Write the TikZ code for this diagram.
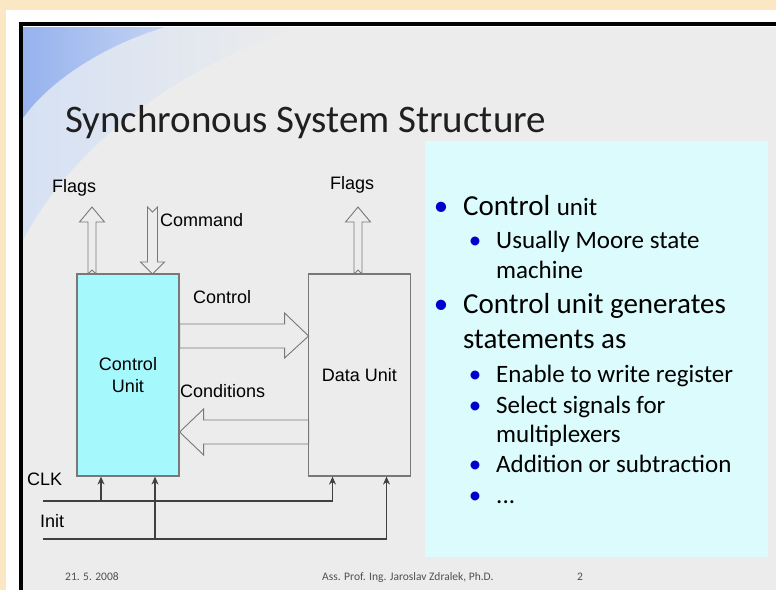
\documentclass[tikz,border=0pt]{standalone}
\usepackage{fontspec}
\setmainfont{Carlito}
\newfontfamily\diagfont{Liberation Sans}
\usetikzlibrary{arrows.meta,positioning}
\tikzset{>={Stealth[length=8pt,width=7pt]}}
\definecolor{peach}{RGB}{251,231,196}
\definecolor{slidegray}{RGB}{236,236,236}
\definecolor{slideblue}{RGB}{150,178,238}
\definecolor{paleblue}{RGB}{214,225,244}
\definecolor{unitcyan}{RGB}{165,249,252}
\definecolor{notecyan}{RGB}{220,251,252}
\definecolor{bulletblue}{RGB}{0,0,204}
\definecolor{linegray}{RGB}{120,120,120}
\definecolor{footgray}{RGB}{80,80,80}

\tikzset{
  unitbox/.style={draw=linegray, line width=1.2pt, minimum width=102pt, minimum height=202pt,
    inner sep=0pt, align=center, font=\diagfont\fontsize{18}{22}\selectfont},
  lbl/.style={anchor=base west, inner sep=0pt, font=\diagfont\fontsize{18}{22}\selectfont},
  bus/.style={draw=linegray, fill=slidegray, line width=0.9pt, line join=miter},
  sig/.style={draw=black!75, line width=1.1pt},
  itemA/.style={anchor=base west, inner sep=0pt, font=\fontsize{29}{34}\selectfont},
  itemB/.style={anchor=base west, inner sep=0pt, font=\fontsize{25}{30}\selectfont},
  foot/.style={anchor=base west, inner sep=0pt, text=footgray, font=\fontsize{11.5}{13}\selectfont}
}
\newcommand{\bul}{\llap{\textcolor{bulletblue}{\textbullet}\hspace{15pt}}}

\begin{document}
\begin{tikzpicture}[x=1pt,y=-1pt]
	\useasboundingbox (0,0) rectangle (776,590);
	% page, frame and slide background
	\fill[peach] (0,0) rectangle (776,590);
	\fill[white] (6,10) rectangle (776,590);
	\fill[slidegray] (23,27) rectangle (776,590);
	\shade[left color=paleblue, right color=slidegray] (23,27) -- (300,27) .. controls (170,70) and (70,150) .. (23,240) -- cycle;
	\shade[left color=slideblue, right color=paleblue!70!slideblue] (23,27) -- (165,27) .. controls (105,45) and (50,80) .. (23,118) -- cycle;
	\draw[line width=4pt] (21,590) -- (21,24) -- (776,24);
	% title
	\node[anchor=base west, inner sep=0pt, text=black!88, font=\fontsize{39}{44}\selectfont] (title) at (65,132) {Synchronous System Structure};
	% notes panel
	\node[fill=notecyan, anchor=north west, minimum width=343pt, minimum height=416pt, inner sep=0pt] (notes) at (425,141) {};

	% flags / command buses (drawn before the boxes)
	\draw[bus] (88,274) -- ++(0,-52) -- ++(-8.5,0) -- ++(12.5,-15) -- ++(12.5,15) -- ++(-8.5,0) -- ++(0,52) -- ++(-4,-4) -- cycle;
	\draw[bus] (152.5,274) -- ++(-12,-12) -- ++(7,0) -- ++(0,-55) -- ++(5,5) -- ++(5,-5) -- ++(0,55) -- ++(7,0) -- cycle;
	\draw[bus] (354,274) -- ++(0,-52) -- ++(-8.5,0) -- ++(12.5,-15) -- ++(12.5,15) -- ++(-8.5,0) -- ++(0,52) -- ++(-4,-4) -- cycle;

	% the two units
	\node[unitbox, fill=unitcyan] (cu) at (128,375) {Control\\Unit};
	\node[unitbox, fill=slidegray] (du) at (359.5,375) {Data Unit};

	% control / conditions buses
	\draw[bus] (cu.east |- 0,324) -- ++(105,0) -- ++(0,-11) -- ++(24,23) -- ++(-24,22) -- ++(0,-10) -- ++(-105,0) -- cycle;
	\draw[bus] (cu.east |- 0,432) -- ++(24,-23) -- ++(0,11) -- ++(105,0) -- ++(0,24) -- ++(-105,0) -- ++(0,11) -- cycle;

	% labels
	\node[lbl] (flagsL) at (52,192) {Flags};
	\node[lbl] (flagsR) at (330,189) {Flags};
	\node[lbl] (cmd) at (160,226) {Command};
	\node[lbl] (ctl) at (193,303) {Control};
	\node[lbl] (cond) at (180,397) {Conditions};
	\node[lbl] (clkL) at (27,485) {CLK};
	\node[lbl] (initL) at (40,527) {Init};

	% clock and init lines
	\coordinate (clk) at (43,501);
	\coordinate (ini) at (43,539);
	\coordinate (cuA) at ([xshift=-27pt]cu.south);
	\coordinate (cuB) at ([xshift=27pt]cu.south);
	\coordinate (duA) at ([xshift=-27pt]du.south);
	\coordinate (duB) at ([xshift=27pt]du.south);
	\draw[sig,->] (clk) -| (duA);
	\draw[sig,->] (cuA |- clk) -- (cuA);
	\draw[sig,->] (ini) -| (duB);
	\draw[sig,->] (cuB |- ini) -- (cuB);

	% notes text
	\node[itemA] (n1) at (463,215) {\bul Control {\fontsize{25}{30}\selectfont unit}};
	\node[itemB] (n2) at (496,248) {\bul Usually Moore state};
	\node[itemB] (n3) at (496,278) {machine};
	\node[itemA] (n4) at (463,313) {\bul Control unit generates};
	\node[itemA] (n5) at (463,348) {statements as};
	\node[itemB] (n6) at (496,382) {\bul Enable to write register};
	\node[itemB] (n7) at (496,413) {\bul Select signals for};
	\node[itemB] (n8) at (496,442) {multiplexers};
	\node[itemB] (n9) at (496,472) {\bul Addition or subtraction};
	\node[itemB] (n10) at (496,503) {\bul ...};

	% footer
	\node[foot] (date) at (65,580) {21. 5. 2008};
	\node[foot] (author) at (322,580) {Ass. Prof. Ing. Jaroslav Zdralek, Ph.D.};
	\node[foot] (page) at (577,580) {2};
\end{tikzpicture}
\end{document}
